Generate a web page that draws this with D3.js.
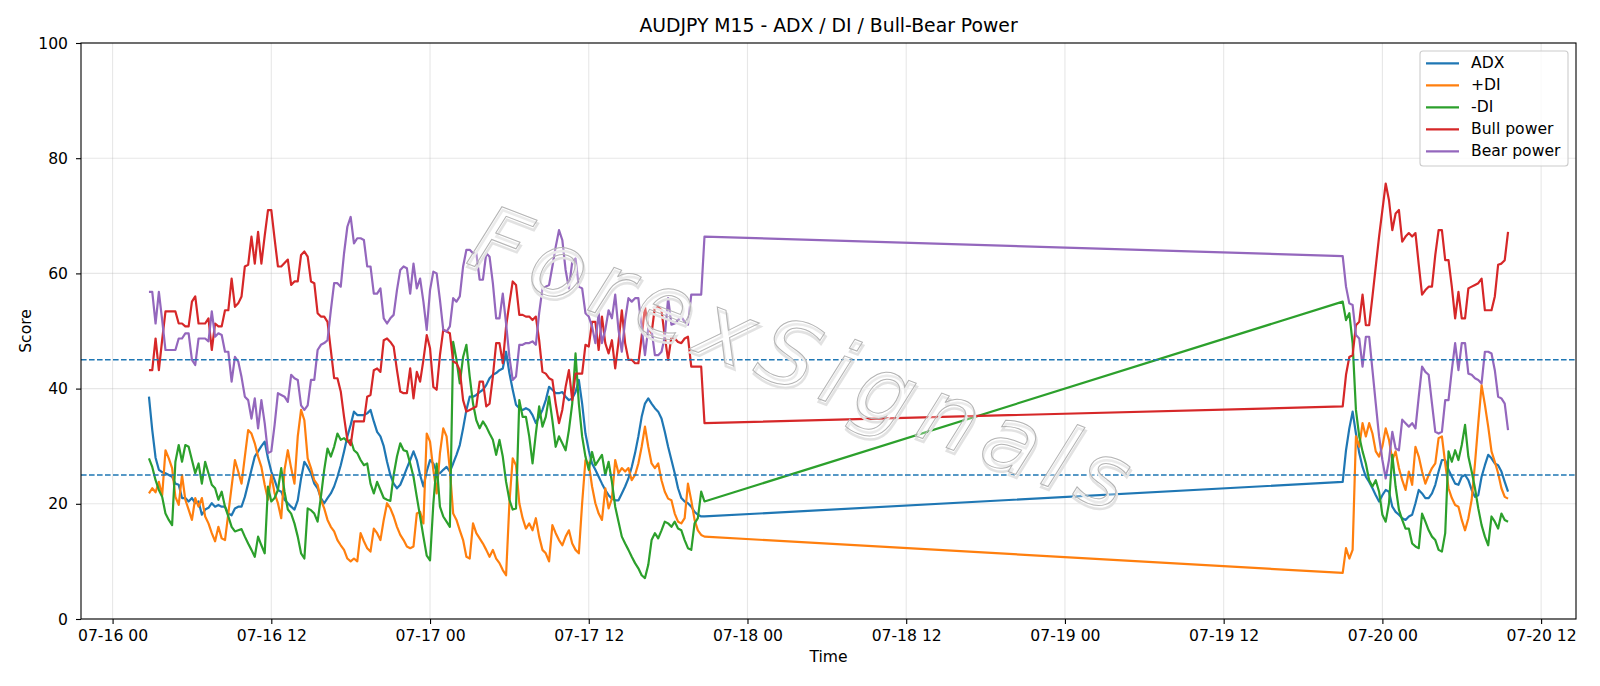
<!DOCTYPE html>
<html>
<head>
<meta charset="UTF-8">
<title>AUDJPY M15 - ADX / DI / Bull-Bear Power</title>
<style>
    body { margin: 0; background: #fff; overflow: hidden; }
    text { font-family: "DejaVu Sans", sans-serif; }
</style>
<script src="https://cdn.jsdelivr.net/npm/d3@7"></script>
</head>
<body>
<script>
// two trading sessions of 15 minute bars (weekend gap in between)
const sessions = [["2020-07-16T02:45:00Z", 169], ["2020-07-19T21:00:00Z", 51]];
const stepMinutes = 15;

const seriesNames = ["ADX", "+DI", "-DI", "Bull power", "Bear power"];
const levels = [25, 45];
const yTicks = [0, 20, 40, 60, 80, 100];

const adx = [
    38.6, 32.8, 28, 25.9, 25.5, 25.3, 25, 24.7, 23.5, 23.3, 21, 21, 20.4, 21, 20.1, 20.4, 18.1, 19, 19.3, 20.1,
    19.5, 19.8, 19.5, 19.5, 18.3, 18, 19.2, 19.5, 19.5, 21.2, 23.5, 25.9, 28.2, 29.1, 30, 30.8, 27.9, 25.6, 24.1, 22.4,
    22.1, 20.7, 20.1,
    19.5, 19, 20.6, 24.4, 27.3, 26.4, 25.3, 23.5, 22.7, 21, 20.1, 21, 21.8, 23, 24.7, 26.7, 29.1, 31.7, 33.7, 36,
    35.4, 35.4, 35.4, 35.7, 36.3, 34.3, 32.5, 31.7, 30, 27.3, 25, 23.5, 22.7, 23.3, 24.7, 26.2, 27.6, 29.1, 27.6, 25,
    23, 25.6, 27.6,
    27, 25.6, 25.3, 25.9, 26.4, 25.6, 27, 28.5, 30.2, 33.1, 36.3, 38.6, 38.6, 38.9, 39.4, 39.8, 40.6, 41.8, 42.4, 42.7,
    43.2, 43.5, 46.4, 42.7, 39.8, 37.2, 36.6, 36.3, 36.6, 36.3, 35.4, 34, 35.1, 36.3, 38, 40.3, 39.8, 39.2, 39.2, 39.4,
    38.6, 38, 38.3, 39.4,
    41.5, 37.4, 32.2, 29.3, 27, 25.9, 24.7, 23.5, 22.4, 21.5, 20.9, 20.6, 20.6, 21.8, 23, 24.4, 26.4, 28.8, 31.7, 35.1,
    37.4, 38.3, 37.4, 36.6, 36, 34.8, 32.5, 29.9, 27.6, 25.3, 22.7, 21, 20.4, 20.1, 19.5, 18.6, 18.1, 17.8, 17.8,
    23.8, 29.3, 33.1, 36, 32.2, 28.8, 26.4, 24.7, 23.8, 22.7, 21.5, 20.4, 21.5, 22.4, 22.1, 19.5, 18.6, 18.1, 17.5, 17.2,
    17.8, 18.1, 20.1, 22.4, 21.8, 21, 21, 21.8, 23.3, 25.6, 27.6, 27.6, 25.9, 24.7, 23.5, 23.3, 24.7, 25, 24.1, 22.4,
    21.2, 21.5, 24.7, 26.7, 28.5, 27.9, 27, 26.7, 25.6, 23.8, 22.1
];

const plusDI = [
    21.8, 22.7, 22, 23.8, 21.5, 29.3, 27.9, 26.2, 21.2, 19.8, 25, 20.7, 19, 17.2, 21, 19.5, 21, 17.8, 16.6, 14.9,
    13.5, 16, 14, 13.7, 18.3, 23, 27.6, 25.6, 23.5, 28.2, 32.8, 32.2, 30.5, 28.2, 26.4, 23.3, 20.7, 25, 21.8, 20.1,
    17.5, 25.9, 29.3,
    26.2, 23.5, 31.7, 36.3, 34.5, 27.9, 26.2, 24.1, 23.3, 20.7, 19.2, 17.2, 16, 15.2, 13.7, 12.8, 12, 10.5, 10, 10.5,
    10, 14.9, 13.5, 12.3, 11.7, 15.7, 14.9, 13.7, 17.2, 20.1, 19.2, 17.8, 16, 14.6, 13.7, 12.6, 12.3, 12.6, 18.3, 18.6,
    16.6, 32.2, 30.8,
    25.9, 21.8, 28.8, 33.1, 31.7, 25.9, 18.3, 17.2, 15.4, 13.7, 10.8, 10.5, 16.6, 14.9, 14, 13.1, 12, 10.8, 12, 10.5,
    9.7, 8.5, 7.6, 20.1, 27.9, 26.7, 20.1, 17.5, 15.7, 16.6, 15.4, 17.5, 14.3, 12, 11.4, 10, 16.3, 14.9, 13.7, 12.8,
    14.3, 15.4, 13.1, 12,
    11.4, 20.1, 27.6, 27, 23, 20.1, 18.3, 17.2, 22.7, 19.2, 20.9, 27.6, 25.3, 26.2, 25.6, 26.2, 24.1, 25, 27, 29.9,
    33.4, 29.9, 27, 26.2, 27, 24.1, 22.1, 20.9, 20.6, 18.3, 16.9, 16.6, 17.5, 23.5, 20.6, 17.2, 15.4, 14.6, 14.3,
    8, 12.3, 10.5, 12, 31.7, 29.9, 34, 31.7, 34, 32.2, 29.1, 28.2, 30, 33.1, 31.1, 27.6, 29.1, 26.2, 24.1, 22.4,
    25.6, 23.3, 29.9, 28.2, 25.6, 23.5, 25, 26.2, 27, 31.4, 31.7, 27, 22.7, 21, 19.8, 19.5, 17.2, 15.4, 17.5, 20.7,
    27, 34, 40.6, 37.2, 33.4, 29.1, 27.3, 25.3, 22.7, 21.2, 20.9
];

const minusDI = [
    27.9, 26.4, 24.1, 22.4, 21.2, 18.3, 17.2, 16.3, 27.3, 30.2, 27.3, 30.2, 29.9, 27.6, 25.3, 27, 23.5, 27.3, 25.3, 23.3,
    22.7, 20.7, 22.1, 19.5, 17.8, 16, 15.2, 15.4, 15.6, 14.3, 13.1, 12, 10.8, 14.3, 12.8, 11.4, 23, 20.4, 21, 22.4,
    26.2, 22.1, 19,
    18.3, 16.6, 14.3, 11.4, 10.5, 19.2, 18.9, 18.3, 16.9, 21.2, 25.9, 29.6, 28.2, 29.9, 32.2, 31.1, 31.4, 30.8, 31.1, 29.3,
    28.8, 27.6, 26.7, 27, 23.5, 21.8, 23.8, 22.4, 21, 20.7, 20.5, 25, 28.2, 30.5, 29.3, 29.1, 27, 24.7, 21.2, 17.8,
    14.3, 11, 10.2,
    20, 27, 19.5, 17.8, 16.9, 16, 48.1, 45, 40.9, 45.5, 47.6, 42.1, 37.4, 34.5, 33.1, 34.3, 33.4, 32.2, 31.1, 28.5,
    31.1, 28.2, 23.8, 20.7, 19, 19.2, 38, 35.1, 35.1, 31.7, 27, 32.2, 36.9, 33.4, 35.1, 38.6, 34.5, 29.9, 31.7, 30.5,
    29.3, 32.8, 37.4, 46.1,
    37.4, 31.7, 28.2, 25.9, 29, 26.7, 27.6, 28.5, 25, 27.3, 23.8, 19.5, 16.9, 14.3, 13.1, 12, 10.8, 9.7, 8.8, 7.6,
    7.1, 9.4, 13.7, 14.9, 14, 15.4, 16.9, 16.6, 16, 16.9, 15.7, 15.4, 13.7, 12.3, 12, 16.6, 17.5, 22.1, 20.4,
    55.1, 51.9, 53.1, 47.9, 36.3, 31.7, 29.1, 27, 24.1, 23, 24.1, 22.1, 18.1, 16.9, 20.1, 28.5, 23, 19, 17.2, 15.7,
    15.7, 13.1, 12.6, 12.3, 18.3, 16.9, 15.4, 14.3, 13.7, 12, 11.7, 14.9, 29.1, 27.3, 29.3, 27.6, 30.2, 33.7, 28.2, 25.6,
    22.7, 19.2, 16.3, 14.3, 12.8, 17.8, 16.9, 15.7, 18.3, 17.2, 16.9
];

const bullPower = [
    43.2, 43.2, 48.7, 43.2, 48.5, 53.4, 53.4, 53.4, 53.4, 51.3, 51.3, 50.8, 50.8, 55.1, 56, 51.3, 51.3, 51.3, 52.2, 46.7,
    51.3, 50.8, 50.8, 53.6, 53.6, 59.1, 54.2, 54.8, 56, 61.2, 61.5, 66.4, 61.7, 67.2, 61.7, 66.5, 71, 71, 66, 61.2,
    61.2, 61.8, 62.4,
    58, 58.6, 58.6, 63.2, 63.8, 62.9, 58.6, 58.3, 53.1, 52.5, 52.5, 51.6, 46.7, 41.8, 41.8, 39.5, 35.1, 31.1, 30.2, 34.3,
    34.3, 34.3, 34.3, 38.6, 38.9, 43.2, 43.5, 42.9, 48.4, 48.7, 48.1, 47.3, 43.2, 39.5, 39.2, 39.2, 43.5, 38.3, 42.9, 41.2,
    45, 49.3, 47,
    40.3, 39.8, 45.8, 50.2, 49.9, 49.6, 44.7, 44.4, 43.2, 38, 36, 36.3, 36.6, 36.9, 41.2, 41.2, 36.9, 37.4, 42.1, 47.9,
    47.9, 44.4, 50.8, 54.8, 58.6, 58, 52.8, 52.8, 52.5, 52.5, 51.9, 52.5, 48.4, 42.9, 42.6, 41.8, 41.5, 37.4, 34, 36.3,
    40.3, 43.2, 38, 42.6,
    42.6, 42.6, 47.6, 47.3, 51.6, 51.6, 46.7, 52.5, 47.9, 46.1, 48.4, 43.5, 48.1, 53.6, 47.9, 45, 45, 44.4, 44.4, 49,
    54.2, 50.5, 49.6, 54.2, 54.2, 53.6, 49, 45, 49, 48.7, 48.1, 47.9, 48.7, 49, 43.8, 43.8, 43.8, 43.8, 34,
    36.9, 42.4, 45.5, 45.8, 51, 51.6, 56.3, 51, 51, 56, 61.2, 66.4, 71, 75.6, 72.7, 67.5, 70.4, 71, 65.5, 66.4,
    67, 66.4, 67, 61.5, 56.3, 57.1, 57.7, 57.7, 63.2, 67.5, 67.5, 62.3, 62.3, 57.7, 52.2, 56.8, 52.2, 52.2, 57.4, 57.7,
    58, 58.3, 59.1, 53.6, 53.6, 53.6, 56, 61.5, 61.7, 62.3, 67.2
];

const bearPower = [
    56.8, 56.8, 51.3, 56.8, 51.9, 46.7, 46.7, 46.7, 46.7, 48.7, 48.7, 49.6, 49.6, 45, 44.1, 48.7, 48.7, 48.7, 48.2, 53.4,
    49, 49.6, 49.3, 46.4, 46.4, 41.2, 45.5, 44.7, 42, 38.6, 38, 34.8, 38.3, 33.1, 38, 34, 28.8, 29.1, 33.7, 39.2,
    38.9, 38.6, 37.7,
    42.4, 41.8, 41.5, 37.1, 36.3, 37.1, 41.5, 41.5, 46.7, 47.6, 47.9, 48.4, 53.6, 58.3, 58.3, 57.7, 63.5, 68.1, 69.8, 65.2,
    66.1, 66.1, 65.8, 61.2, 61.2, 56.5, 56.5, 57.4, 52.2, 51.3, 52.2, 52.8, 57.1, 60.6, 61.2, 60.9, 56.5, 61.7, 57.4, 59.1,
    55.1, 50.2, 57.1,
    60.3, 60, 55.4, 50.2, 49.9, 50.8, 55.7, 55.1, 56, 61.2, 64.1, 64.1, 63.5, 63.5, 58.9, 58.9, 63.5, 62.9, 58.3, 52.2,
    52.2, 56.5, 51.3, 45.5, 41.5, 42.1, 47.6, 47.6, 47.9, 47.9, 48.2, 47.6, 53.1, 57.4, 57.7, 58, 61.2, 64.6, 67.5, 65.8,
    60.6, 57.4, 62, 62.6,
    57.7, 57.4, 53.1, 52.5, 50.8, 47.9, 53.1, 47.9, 50.2, 53.6, 52.2, 56.3, 50.2, 46.4, 51.9, 55.7, 55.1, 55.7, 55.7, 50.5,
    45.8, 50.5, 50.2, 45.8, 45.8, 46.4, 49, 55.7, 51.1, 51.3, 51.9, 52.5, 51.6, 51.1, 56.3, 56.3, 56.3, 56.3, 66.4,
    63, 57.7, 54.8, 54.5, 49.3, 48.7, 43.8, 49, 49, 43.2, 37.4, 31.7, 27.6, 24.4, 27.6, 32.5, 29.6, 29.3, 34.6, 34,
    33.4, 34, 33.1, 38.6, 43.8, 42.9, 42.4, 37.4, 32.5, 32.2, 32.5, 38, 38, 43.2, 47.9, 43.2, 47.9, 47.9, 42.6, 42.4,
    41.8, 41.5, 40.9, 46.4, 46.4, 46.1, 43.2, 38.6, 38.3, 37.4, 32.8
];

const allValues = [adx, plusDI, minusDI, bullPower, bearPower];

// bar times
const times = [];
sessions.forEach(([start, n]) => {
    const t0 = new Date(start);
    for (let k = 0; k < n; k++) times.push(d3.utcMinute.offset(t0, k * stepMinutes));
});

const width = 1600, height = 686;
const margin = {top: 43, right: 24, bottom: 67, left: 81};
const fs = 15.6;

const svg = d3.select("body").append("svg")
    .attr("width", width)
    .attr("height", height);

const [tMin, tMax] = d3.extent(times);
const pad = (tMax - tMin) * 0.05;
const x = d3.scaleUtc()
    .domain([new Date(+tMin - pad), new Date(+tMax + pad)])
    .range([margin.left, width - margin.right]);
const y = d3.scaleLinear()
    .domain([0, 100])
    .range([height - margin.bottom, margin.top]);

const color = d3.scaleOrdinal(seriesNames, d3.schemeCategory10);
const xTicks = x.ticks(d3.utcHour.every(12));

// grid
svg.append("g").selectAll("line")
    .data(xTicks)
    .join("line")
    .attr("x1", d => x(d)).attr("x2", d => x(d))
    .attr("y1", y(0)).attr("y2", y(100))
    .attr("stroke", "#b0b0b0").attr("stroke-opacity", 0.3).attr("stroke-width", 1.1);
svg.append("g").selectAll("line")
    .data(yTicks)
    .join("line")
    .attr("x1", x.range()[0]).attr("x2", x.range()[1])
    .attr("y1", d => y(d)).attr("y2", d => y(d))
    .attr("stroke", "#b0b0b0").attr("stroke-opacity", 0.3).attr("stroke-width", 1.1);

// series
const line = d3.line()
    .x((d, i) => x(times[i]))
    .y(d => y(d));

svg.append("g").selectAll("path")
    .data(allValues)
    .join("path")
    .attr("d", d => line(d))
    .attr("fill", "none")
    .attr("stroke", (d, i) => color(seriesNames[i]))
    .attr("stroke-width", 2.2)
    .attr("stroke-linejoin", "round");

// reference levels
svg.append("g").selectAll("line")
    .data(levels)
    .join("line")
    .attr("x1", x.range()[0]).attr("x2", x.range()[1])
    .attr("y1", d => y(d)).attr("y2", d => y(d))
    .attr("stroke", "#1f77b4")
    .attr("stroke-width", 1.5)
    .attr("stroke-dasharray", "5.6,2.4");

// watermark, thin hollow letters with a soft shadow
const wm = svg.append("g")
    .attr("transform", "translate(806,360) rotate(21)");
wm.append("text")
    .attr("x", 2).attr("y", 3)
    .attr("text-anchor", "middle")
    .attr("dominant-baseline", "central")
    .style("font-size", "90px").style("font-style", "italic").style("font-weight", 300)
    .style("letter-spacing", "11px")
    .attr("fill", "none").attr("stroke", "#e2e2e2").attr("stroke-width", 2.5)
    .text("ForexSignals");
wm.append("text")
    .attr("text-anchor", "middle")
    .attr("dominant-baseline", "central")
    .style("font-size", "90px").style("font-style", "italic").style("font-weight", 300)
    .style("letter-spacing", "11px")
    .attr("fill", "#ffffff").attr("fill-opacity", 0.3)
    .attr("stroke", "#b4b4b4").attr("stroke-width", 1)
    .text("ForexSignals");

// axes
const xAxis = svg.append("g")
    .attr("transform", `translate(0,${y(0)})`)
    .call(d3.axisBottom(x).tickValues(xTicks).tickFormat(d3.utcFormat("%m-%d %H")).tickSize(5).tickPadding(6));
const yAxis = svg.append("g")
    .attr("transform", `translate(${margin.left},0)`)
    .call(d3.axisLeft(y).tickValues(yTicks).tickSize(5).tickPadding(8));
[xAxis, yAxis].forEach(g => {
    g.select(".domain").remove();
    g.attr("font-family", null).attr("font-size", null);
    g.selectAll("text").style("font-size", fs + "px").attr("fill", "#000");
    g.selectAll("line").attr("stroke", "#000").attr("stroke-width", 1.1);
});

// frame
svg.append("rect")
    .attr("x", x.range()[0]).attr("y", y(100))
    .attr("width", x.range()[1] - x.range()[0])
    .attr("height", y(0) - y(100))
    .attr("fill", "none").attr("stroke", "#000").attr("stroke-width", 1.1);

// labels
svg.append("text")
    .attr("x", (x.range()[0] + x.range()[1]) / 2).attr("y", 32)
    .attr("text-anchor", "middle")
    .style("font-size", "18.8px")
    .text("AUDJPY M15 - ADX / DI / Bull-Bear Power");
svg.append("text")
    .attr("x", (x.range()[0] + x.range()[1]) / 2).attr("y", 662)
    .attr("text-anchor", "middle")
    .style("font-size", fs + "px")
    .text("Time");
svg.append("text")
    .attr("transform", `translate(26,${(y(0) + y(100)) / 2}) rotate(-90)`)
    .attr("text-anchor", "middle")
    .attr("dominant-baseline", "central")
    .style("font-size", fs + "px")
    .text("Score");

// legend
const legend = svg.append("g");
legend.append("rect")
    .attr("x", 1420).attr("y", 51)
    .attr("width", 148).attr("height", 115)
    .attr("rx", 3)
    .attr("fill", "#fff").attr("fill-opacity", 0.8)
    .attr("stroke", "#cccccc").attr("stroke-width", 1.1);
const rows = legend.selectAll("g.row")
    .data(seriesNames)
    .join("g")
    .attr("class", "row")
    .attr("transform", (d, i) => `translate(1426,${63.3 + i * 22})`);
rows.append("line")
    .attr("x1", 0).attr("x2", 33)
    .attr("stroke", d => color(d)).attr("stroke-width", 2.2);
rows.append("text")
    .attr("x", 45)
    .attr("dominant-baseline", "central")
    .style("font-size", fs + "px")
    .text(d => d);
</script>
</body>
</html>
